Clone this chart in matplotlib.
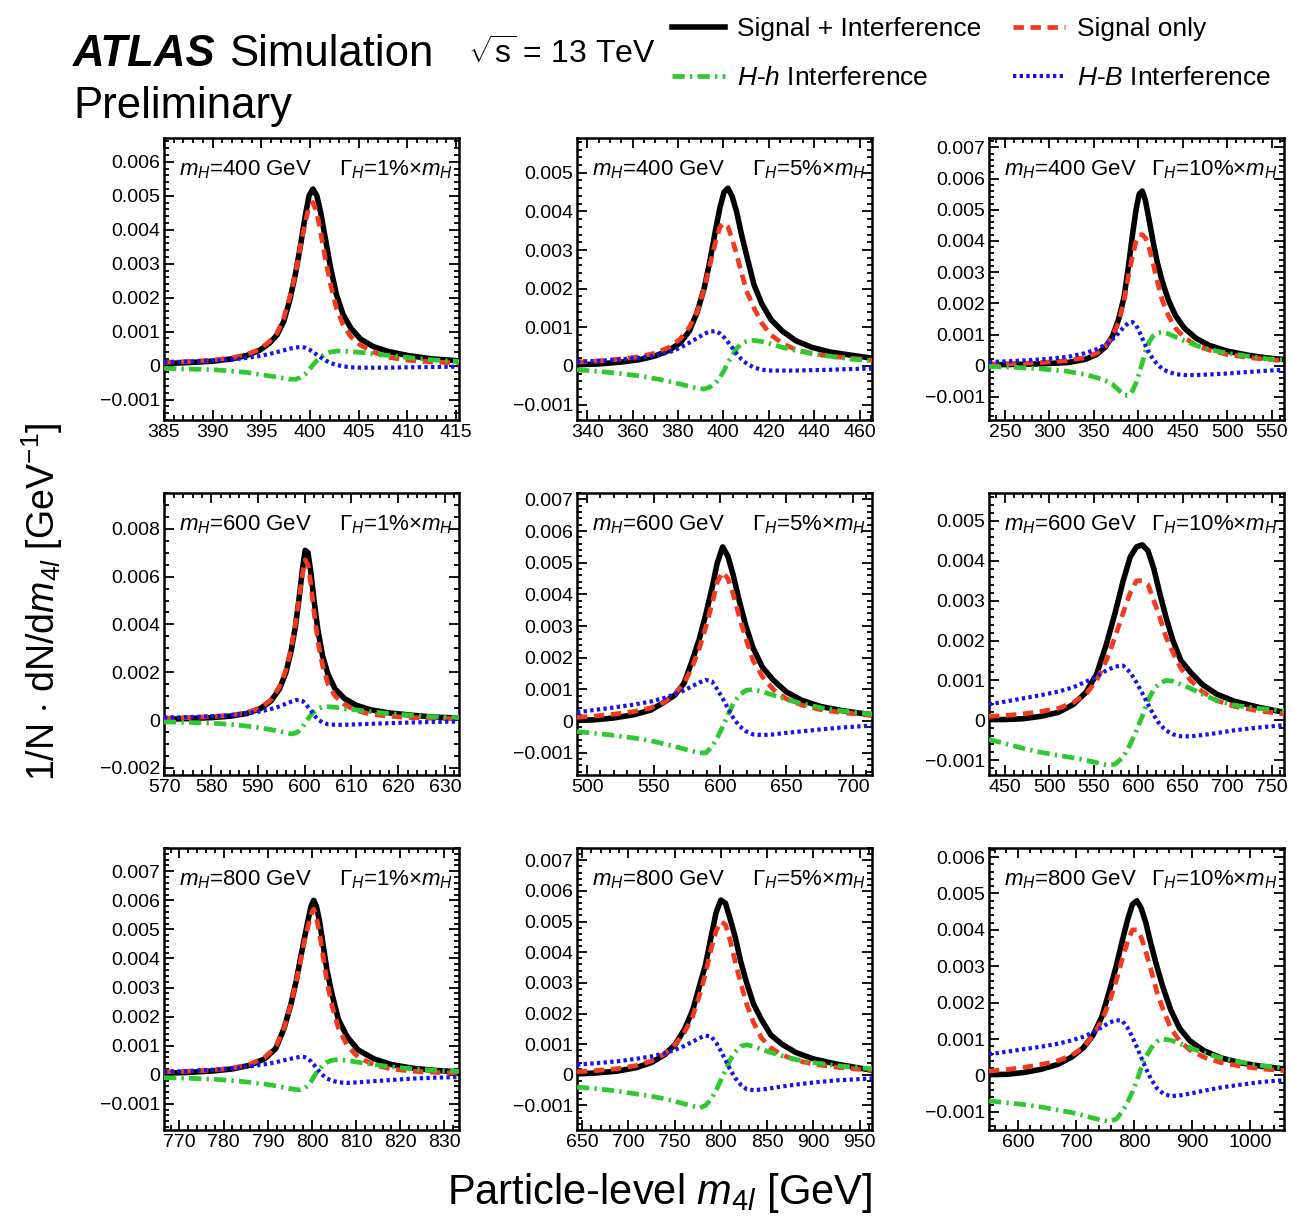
import matplotlib
matplotlib.use('Agg')
import matplotlib.pyplot as plt
from matplotlib.ticker import MultipleLocator, AutoMinorLocator, FuncFormatter

plt.rcParams['font.family'] = ['Liberation Sans', 'DejaVu Sans']
plt.rcParams['mathtext.fontset'] = 'custom'
plt.rcParams['mathtext.rm'] = 'Liberation Sans'
plt.rcParams['mathtext.it'] = 'Liberation Sans:italic'
plt.rcParams['mathtext.bf'] = 'Liberation Sans:bold'

# ---- mH = 400 GeV, width 1% ----
x_400_1 = [385, 387.5, 390, 392, 393.5, 394.8, 395.8, 396.6, 397.3, 397.9, 398.5, 399.0, 399.5, 399.9, 400.3, 400.7, 401.1, 401.6, 402.1, 402.7, 403.4, 404.2, 405.2, 406.5, 408, 410, 412.5, 415.4]
si_400_1 = [0.00006, 0.00009, 0.00013, 0.0002, 0.0003, 0.00045, 0.00065, 0.0009, 0.0013, 0.0019, 0.0027, 0.0035, 0.0044, 0.005, 0.0052, 0.005, 0.0045, 0.0037, 0.0029, 0.0021, 0.0015, 0.0011, 0.00078, 0.00056, 0.00042, 0.0003, 0.0002, 0.00014]
s_400_1 = [0.0001, 0.00012, 0.00016, 0.00023, 0.00033, 0.00048, 0.0007, 0.00095, 0.0014, 0.002, 0.0027, 0.0035, 0.0042, 0.0047, 0.0048, 0.0045, 0.0039, 0.0031, 0.0024, 0.0017, 0.0012, 0.00085, 0.0006, 0.0004, 0.00025, 0.00016, 0.00011, 0.00008]
hh_400_1 = [-0.00008, -0.0001, -0.00012, -0.00016, -0.0002, -0.00026, -0.0003, -0.00034, -0.00037, -0.0004, -0.0004, -0.00035, -0.00025, -0.00012, 0.00002, 0.00015, 0.00026, 0.00035, 0.0004, 0.00043, 0.00043, 0.00041, 0.00039, 0.00035, 0.0003, 0.00024, 0.00017, 0.00012]
hb_400_1 = [0.0001, 0.00012, 0.00015, 0.00018, 0.00023, 0.00028, 0.00034, 0.0004, 0.00045, 0.0005, 0.00053, 0.00055, 0.00053, 0.00048, 0.0004, 0.00032, 0.00024, 0.00015, 0.00008, 0.00002, -0.00002, -0.00005, -0.00006, -0.00006, -0.00006, -0.00005, -0.00004, -0.00003]

# ---- mH = 400 GeV, width 5% ----
x_400_5 = [335.5, 345, 355, 363, 370, 376, 381, 385, 388.5, 391.5, 394, 396.5, 398.5, 400.3, 402, 403.8, 405.8, 408, 410.5, 413.5, 417, 421, 426, 432, 439, 447, 456, 465.5]
si_400_5 = [0.00003, 0.00005, 0.0001, 0.00016, 0.00026, 0.0004, 0.0006, 0.0009, 0.0014, 0.002, 0.0027, 0.0035, 0.0041, 0.0045, 0.0046, 0.0044, 0.004, 0.0034, 0.0028, 0.0021, 0.0016, 0.0012, 0.0009, 0.00065, 0.00048, 0.00036, 0.00028, 0.0002]
s_400_5 = [0.0001, 0.00013, 0.00018, 0.00024, 0.00033, 0.00048, 0.0007, 0.001, 0.0014, 0.002, 0.0026, 0.0032, 0.0036, 0.0037, 0.0036, 0.0033, 0.0029, 0.0024, 0.0019, 0.0015, 0.0011, 0.0008, 0.00058, 0.00042, 0.00032, 0.00025, 0.0002, 0.00015]
hh_400_5 = [-0.0001, -0.00014, -0.0002, -0.00026, -0.00033, -0.0004, -0.00047, -0.00053, -0.00058, -0.0006, -0.00055, -0.00045, -0.0003, -0.00012, 0.00008, 0.00026, 0.00045, 0.00058, 0.00065, 0.00066, 0.00063, 0.00057, 0.00048, 0.0004, 0.00032, 0.00025, 0.00018, 0.00013]
hb_400_5 = [0.00011, 0.00013, 0.00017, 0.00021, 0.00027, 0.00035, 0.00047, 0.0006, 0.00072, 0.00083, 0.00089, 0.0009, 0.00084, 0.00074, 0.00062, 0.00048, 0.00032, 0.00017, 0.00005, -0.00004, -0.0001, -0.00012, -0.00012, -0.00012, -0.00011, -0.0001, -0.00008, -0.00007]

# ---- mH = 400 GeV, width 10% ----
x_400_10 = [232, 260, 290, 320, 340, 353, 363, 371, 378, 384, 389, 393.5, 397.5, 401, 404.5, 408, 412, 416.5, 421.5, 427, 434, 442, 452, 465, 480, 500, 525, 545, 564]
si_400_10 = [0.00003, 0.00004, 0.00006, 0.0001, 0.0002, 0.00036, 0.0006, 0.00095, 0.0015, 0.0022, 0.0032, 0.0042, 0.005, 0.0055, 0.0056, 0.0053, 0.0047, 0.004, 0.0033, 0.0027, 0.0021, 0.0016, 0.0012, 0.00088, 0.00065, 0.00047, 0.00033, 0.00025, 0.0002]
s_400_10 = [0.00005, 0.00007, 0.0001, 0.00016, 0.00026, 0.0004, 0.00062, 0.00095, 0.0014, 0.0021, 0.0029, 0.0035, 0.004, 0.0042, 0.0042, 0.0041, 0.0038, 0.0033, 0.0027, 0.0021, 0.0016, 0.0012, 0.0009, 0.00065, 0.0005, 0.00036, 0.00026, 0.0002, 0.00016]
hh_400_10 = [-0.00003, -0.00005, -0.0001, -0.00018, -0.00028, -0.00038, -0.00048, -0.0006, -0.00078, -0.00095, -0.00095, -0.0008, -0.00055, -0.00025, 0.0001, 0.00045, 0.00075, 0.00095, 0.00105, 0.00108, 0.00102, 0.00092, 0.0008, 0.00065, 0.00052, 0.0004, 0.0003, 0.00022, 0.00018]
hb_400_10 = [0.00012, 0.00015, 0.0002, 0.00028, 0.0004, 0.00053, 0.00067, 0.00085, 0.00105, 0.00125, 0.00137, 0.0014, 0.0013, 0.0011, 0.00088, 0.00065, 0.00042, 0.00022, 0.00005, -0.0001, -0.0002, -0.00027, -0.0003, -0.0003, -0.00028, -0.00025, -0.0002, -0.00016, -0.00013]

# ---- mH = 600 GeV, width 1% ----
x_600_1 = [569.9, 575, 580, 584, 587.5, 590.5, 592.8, 594.6, 596, 597.1, 598, 598.8, 599.5, 600.1, 600.7, 601.3, 602, 602.8, 603.8, 605, 606.5, 608.5, 611, 614, 618, 623, 628, 633]
si_600_1 = [0.00003, 0.00006, 0.0001, 0.00016, 0.00027, 0.00048, 0.0008, 0.0013, 0.002, 0.0029, 0.0039, 0.0051, 0.0063, 0.0071, 0.007, 0.0062, 0.005, 0.0038, 0.0027, 0.0019, 0.0013, 0.0009, 0.00062, 0.00043, 0.0003, 0.0002, 0.00012, 0.00008]
s_600_1 = [0.00008, 0.0001, 0.00014, 0.0002, 0.0003, 0.0005, 0.00085, 0.0014, 0.0021, 0.003, 0.004, 0.0051, 0.0061, 0.0067, 0.0065, 0.0057, 0.0045, 0.0033, 0.0023, 0.0015, 0.001, 0.00065, 0.0004, 0.00025, 0.00016, 0.0001, 0.00007, 0.00005]
hh_600_1 = [-0.00008, -0.0001, -0.00013, -0.00018, -0.00025, -0.00033, -0.0004, -0.00047, -0.00053, -0.00058, -0.00055, -0.00045, -0.0003, -0.00012, 0.00005, 0.0002, 0.00035, 0.00047, 0.00055, 0.00056, 0.00053, 0.00048, 0.00042, 0.00035, 0.00027, 0.0002, 0.00013, 0.0001]
hb_600_1 = [0.0001, 0.00012, 0.00016, 0.0002, 0.00028, 0.00036, 0.00046, 0.00057, 0.00068, 0.00077, 0.00083, 0.00084, 0.0008, 0.0007, 0.00055, 0.0004, 0.0002, 0.00003, -0.0001, -0.00018, -0.0002, -0.0002, -0.00018, -0.00016, -0.00013, -0.0001, -0.00008, -0.00006]

# ---- mH = 600 GeV, width 5% ----
x_600_5 = [492.4, 505, 520, 535, 548, 558, 566, 573, 579, 584.5, 589.5, 594, 598, 602, 606, 610, 614.5, 619.5, 625, 632, 640, 650, 662, 676, 692, 714.4]
si_600_5 = [0.00002, 0.00004, 0.0001, 0.0002, 0.00035, 0.0006, 0.00082, 0.0012, 0.0019, 0.0026, 0.0034, 0.0042, 0.005, 0.0055, 0.0052, 0.0046, 0.0038, 0.003, 0.0023, 0.0017, 0.0013, 0.00092, 0.00065, 0.00046, 0.00033, 0.0002]
s_600_5 = [0.00012, 0.00016, 0.00022, 0.0003, 0.00042, 0.0006, 0.00085, 0.0012, 0.0017, 0.0023, 0.003, 0.0037, 0.0044, 0.0047, 0.0045, 0.004, 0.0033, 0.0026, 0.0019, 0.0014, 0.001, 0.0007, 0.0005, 0.00036, 0.00027, 0.00018]
hh_600_5 = [-0.00033, -0.00038, -0.00045, -0.00053, -0.00062, -0.00072, -0.0008, -0.00088, -0.00095, -0.001, -0.001, -0.0008, -0.00052, -0.00018, 0.0002, 0.00055, 0.00082, 0.00097, 0.001, 0.00093, 0.00082, 0.00068, 0.00055, 0.00042, 0.00032, 0.00022]
hb_600_5 = [0.00028, 0.00035, 0.00043, 0.00052, 0.00062, 0.00073, 0.00085, 0.00097, 0.0011, 0.00122, 0.0013, 0.00125, 0.001, 0.00072, 0.0004, 0.0001, -0.00015, -0.00032, -0.00042, -0.00044, -0.00042, -0.00037, -0.00032, -0.00026, -0.0002, -0.00014]

# ---- mH = 600 GeV, width 10% ----
x_600_10 = [432, 450, 470, 490, 510, 527, 541, 553, 564, 574, 583, 591, 598, 604.5, 611, 617.5, 624, 631, 639, 648, 659, 672, 688, 708, 735, 764]
si_600_10 = [0.00002, 0.00002, 0.00004, 0.0001, 0.0002, 0.0004, 0.0007, 0.00115, 0.0019, 0.0027, 0.0035, 0.0041, 0.00435, 0.0044, 0.00425, 0.0038, 0.0032, 0.0026, 0.002, 0.0015, 0.0012, 0.0009, 0.00066, 0.00048, 0.00033, 0.0002]
s_600_10 = [0.0001, 0.00012, 0.00016, 0.00022, 0.0003, 0.00045, 0.00065, 0.001, 0.0015, 0.0021, 0.0027, 0.0032, 0.0035, 0.0035, 0.0034, 0.003, 0.0026, 0.0021, 0.0017, 0.0013, 0.001, 0.00072, 0.0005, 0.00035, 0.00024, 0.00016]
hh_600_10 = [-0.00048, -0.00058, -0.0007, -0.0008, -0.00088, -0.00094, -0.001, -0.00106, -0.00112, -0.0011, -0.00092, -0.0006, -0.00025, 0.0001, 0.0005, 0.00078, 0.00093, 0.001, 0.00098, 0.0009, 0.0008, 0.00066, 0.0005, 0.00038, 0.0003, 0.00024]
hb_600_10 = [0.0004, 0.00047, 0.00055, 0.00063, 0.00072, 0.00083, 0.00097, 0.0011, 0.00125, 0.00135, 0.00137, 0.0012, 0.00095, 0.00068, 0.0004, 0.00013, -0.0001, -0.00025, -0.00035, -0.0004, -0.0004, -0.00037, -0.00032, -0.00025, -0.00018, -0.00012]

# ---- mH = 800 GeV, width 1% ----
x_800_1 = [766.5, 772, 777.5, 782, 786, 789.3, 791.8, 793.7, 795.2, 796.4, 797.4, 798.3, 799.1, 799.8, 800.4, 801, 801.7, 802.5, 803.4, 804.5, 806, 808, 810.5, 814, 818, 823, 828, 833.3]
si_800_1 = [0.00005, 0.00008, 0.00013, 0.0002, 0.00033, 0.00055, 0.0009, 0.0016, 0.0024, 0.0032, 0.004, 0.0047, 0.0053, 0.0058, 0.006, 0.0058, 0.0053, 0.0045, 0.0036, 0.0028, 0.0019, 0.0013, 0.00085, 0.00055, 0.00035, 0.00022, 0.00015, 0.0001]
s_800_1 = [0.0001, 0.00012, 0.00016, 0.00023, 0.00036, 0.0006, 0.00095, 0.0016, 0.0024, 0.0032, 0.0039, 0.0046, 0.0051, 0.0055, 0.0057, 0.0054, 0.0049, 0.0041, 0.0032, 0.0024, 0.0016, 0.001, 0.0006, 0.00034, 0.0002, 0.00012, 0.00008, 0.00006]
hh_800_1 = [-0.0001, -0.00012, -0.00015, -0.0002, -0.00026, -0.00032, -0.00038, -0.00044, -0.00048, -0.00051, -0.00052, -0.00047, -0.00037, -0.00023, -0.00008, 0.00007, 0.0002, 0.00033, 0.00043, 0.0005, 0.00052, 0.00049, 0.00043, 0.00035, 0.00027, 0.0002, 0.00015, 0.00012]
hb_800_1 = [0.0001, 0.00013, 0.00017, 0.00022, 0.00029, 0.00036, 0.00043, 0.0005, 0.00055, 0.00059, 0.00062, 0.00061, 0.00055, 0.00046, 0.00035, 0.00024, 0.00011, -0.00002, -0.00013, -0.0002, -0.00026, -0.00028, -0.00026, -0.00022, -0.00018, -0.00013, -0.0001, -0.00008]

# ---- mH = 800 GeV, width 5% ----
x_800_5 = [644.6, 665, 688, 708, 725, 739, 751, 761, 769.5, 777, 783.5, 789.5, 795, 800, 805, 810, 815.5, 821.5, 828, 835.5, 844, 854, 866, 881, 900, 925, 950, 963.4]
si_800_5 = [0.00003, 0.00006, 0.00012, 0.00023, 0.0004, 0.00065, 0.001, 0.0015, 0.0021, 0.0029, 0.0036, 0.0045, 0.0053, 0.0057, 0.0056, 0.0051, 0.0045, 0.0037, 0.003, 0.0023, 0.0018, 0.0013, 0.001, 0.00073, 0.00052, 0.00035, 0.00022, 0.00015]
s_800_5 = [0.0001, 0.00014, 0.0002, 0.0003, 0.00045, 0.00068, 0.001, 0.0014, 0.0019, 0.0026, 0.0033, 0.0041, 0.0047, 0.005, 0.0049, 0.0044, 0.0037, 0.003, 0.0023, 0.0017, 0.0012, 0.00088, 0.00065, 0.00048, 0.00035, 0.00025, 0.00018, 0.00015]
hh_800_5 = [-0.0004, -0.00045, -0.00053, -0.00062, -0.0007, -0.00078, -0.00087, -0.00095, -0.00102, -0.00108, -0.001, -0.0008, -0.0005, -0.00018, 0.00015, 0.00048, 0.00075, 0.00093, 0.00098, 0.00093, 0.00083, 0.00073, 0.00062, 0.0005, 0.0004, 0.0003, 0.00023, 0.0002]
hb_800_5 = [0.00033, 0.00038, 0.00044, 0.00052, 0.0006, 0.0007, 0.00082, 0.00095, 0.00108, 0.0012, 0.00128, 0.00125, 0.00105, 0.00078, 0.00048, 0.00018, -0.0001, -0.00032, -0.00047, -0.0005, -0.00048, -0.00044, -0.00038, -0.00032, -0.00025, -0.00018, -0.00014, -0.00012]

# ---- mH = 800 GeV, width 10% ----
x_800_10 = [550, 580, 610, 640, 668, 692, 712, 729, 744, 757, 769, 779.5, 789, 797, 804.5, 812, 820, 829, 839, 850, 863, 878, 896, 920, 950, 985, 1020, 1058]
si_800_10 = [0.00002, 0.00003, 0.00008, 0.00017, 0.0003, 0.0005, 0.00075, 0.0011, 0.0016, 0.0023, 0.003, 0.0037, 0.0043, 0.0047, 0.0048, 0.0046, 0.0042, 0.0036, 0.003, 0.0024, 0.0018, 0.0013, 0.00095, 0.00068, 0.00048, 0.00034, 0.00025, 0.00018]
s_800_10 = [0.00012, 0.00016, 0.00022, 0.0003, 0.0004, 0.00055, 0.00076, 0.0011, 0.0015, 0.002, 0.0026, 0.0032, 0.0037, 0.004, 0.004, 0.0038, 0.0034, 0.0029, 0.0023, 0.0018, 0.0013, 0.00095, 0.0007, 0.0005, 0.00035, 0.00025, 0.00018, 0.00013]
hh_800_10 = [-0.0007, -0.00075, -0.0008, -0.00087, -0.00095, -0.00102, -0.0011, -0.00117, -0.00123, -0.00127, -0.0012, -0.001, -0.00072, -0.00045, -0.00015, 0.0002, 0.0005, 0.00075, 0.00093, 0.001, 0.00097, 0.00088, 0.00076, 0.00062, 0.00048, 0.00036, 0.00027, 0.0002]
hb_800_10 = [0.00058, 0.00065, 0.00072, 0.00079, 0.00087, 0.00096, 0.00106, 0.00118, 0.00132, 0.00145, 0.00152, 0.0015, 0.0013, 0.00105, 0.00078, 0.0005, 0.0002, -0.0001, -0.00035, -0.0005, -0.00057, -0.00055, -0.0005, -0.00042, -0.00033, -0.00025, -0.00018, -0.00013]

masses = [400, 400, 400, 600, 600, 600, 800, 800, 800]
widths = ['1%', '5%', '10%'] * 3
xlims = [(385.0, 415.3), (335.5, 465.5), (232, 564),
         (569.9, 633), (492.4, 714.4), (432, 764),
         (766.5, 833.3), (644.6, 963.4), (550, 1058)]
ylims = [(-0.0016, 0.0067), (-0.0014, 0.0059), (-0.00174, 0.0073),
         (-0.0023, 0.0095), (-0.0017, 0.0072), (-0.00137, 0.0057),
         (-0.0019, 0.0078), (-0.0018, 0.0074), (-0.0015, 0.00625)]
xmajor = [5, 20, 50, 10, 50, 50, 10, 50, 100]
ymajor = [0.001, 0.001, 0.001, 0.002, 0.001, 0.001, 0.001, 0.001, 0.001]

panels = [
    (x_400_1, si_400_1, s_400_1, hh_400_1, hb_400_1),
    (x_400_5, si_400_5, s_400_5, hh_400_5, hb_400_5),
    (x_400_10, si_400_10, s_400_10, hh_400_10, hb_400_10),
    (x_600_1, si_600_1, s_600_1, hh_600_1, hb_600_1),
    (x_600_5, si_600_5, s_600_5, hh_600_5, hb_600_5),
    (x_600_10, si_600_10, s_600_10, hh_600_10, hb_600_10),
    (x_800_1, si_800_1, s_800_1, hh_800_1, hb_800_1),
    (x_800_5, si_800_5, s_800_5, hh_800_5, hb_800_5),
    (x_800_10, si_800_10, s_800_10, hh_800_10, hb_800_10),
]

RED = '#f5391c'
GREEN = '#2ec92e'
BLUE = '#1414f0'

W, H = 1294, 1219
fig = plt.figure(figsize=(W / 100, H / 100), dpi=100)

col_left = [164, 577, 989]
row_top = [138, 493, 848]
aw, ah = 295, 282


def yfmt(v, pos):
    if abs(v) < 1e-9:
        return '0'
    return ('%.3f' % v).replace('-', '\u2212')


handles = None
for i, (x, si, s, hh, hb) in enumerate(panels):
    r, c = divmod(i, 3)
    ax = fig.add_axes([col_left[c] / W, 1 - (row_top[r] + ah) / H, aw / W, ah / H])
    l1, = ax.plot(x, si, color='black', lw=4.0, zorder=3, solid_joinstyle='round')
    l2, = ax.plot(x, s, color=RED, lw=3.4, dashes=(2.2, 1.4), zorder=4)
    l3, = ax.plot(x, hh, color=GREEN, lw=3.4, dashes=(2.6, 1.1, 0.5, 1.1), zorder=4)
    l4, = ax.plot(x, hb, color=BLUE, lw=3.0, dashes=(0.8, 0.8), zorder=4)
    if handles is None:
        handles = [l1, l3, l2, l4]

    ax.set_xlim(*xlims[i])
    ax.set_ylim(*ylims[i])
    ax.xaxis.set_major_locator(MultipleLocator(xmajor[i]))
    ax.yaxis.set_major_locator(MultipleLocator(ymajor[i]))
    ax.xaxis.set_minor_locator(AutoMinorLocator())
    ax.yaxis.set_minor_locator(AutoMinorLocator())
    ax.yaxis.set_major_formatter(FuncFormatter(yfmt))
    ax.tick_params(which='both', direction='in', top=True, right=True,
                   labelsize=14, width=1.3, pad=3)
    ax.tick_params(which='major', length=7)
    ax.tick_params(which='minor', length=3.5)
    for sp in ax.spines.values():
        sp.set_linewidth(1.8)

    ax.text(15 / aw, 1 - 32 / ah, r'$m_{H}$=%d GeV' % masses[i],
            transform=ax.transAxes, fontsize=16, ha='left', va='center')
    ax.text(1 - 6 / aw, 1 - 32 / ah,
            r'$\mathit{Γ}_{H}$=' + widths[i] + r'$\times$$m_{H}$',
            transform=ax.transAxes, fontsize=16, ha='right', va='center')

# header
fig.text(73 / W, 1 - 66 / H, 'ATLAS', fontsize=31.5, fontweight='bold',
         fontstyle='italic', va='baseline', ha='left')
fig.text(229 / W, 1 - 66 / H, 'Simulation', fontsize=31.5, va='baseline', ha='left')
fig.text(468 / W, 1 - 64 / H, r'$\sqrt{\mathrm{s}}$ = 13 TeV', fontsize=23,
         va='baseline', ha='left')
fig.text(73 / W, 1 - 118 / H, 'Preliminary', fontsize=31.5, va='baseline', ha='left')

labels = ['Signal + Interference', r'$H$-$h$ Interference',
          'Signal only', r'$H$-$B$ Interference']
fig.legend(handles, labels, ncol=2, loc='upper left',
           bbox_to_anchor=(672 / W, 1 - 17 / H), frameon=False, fontsize=19,
           borderpad=0, borderaxespad=0,
           handlelength=2.0, handletextpad=0.45, columnspacing=1.2,
           labelspacing=0.95)

fig.text(42 / W, 1 - 602 / H, r'1/N $\cdot$ dN/d$m_{4l}$ [GeV$^{-1}$]',
         rotation=90, fontsize=27, ha='center', va='center')
fig.text(660 / W, 1 - 1193 / H, r'Particle-level $m_{4l}$ [GeV]',
         fontsize=30, ha='center', va='center')

fig.savefig('out.png', dpi=100)
